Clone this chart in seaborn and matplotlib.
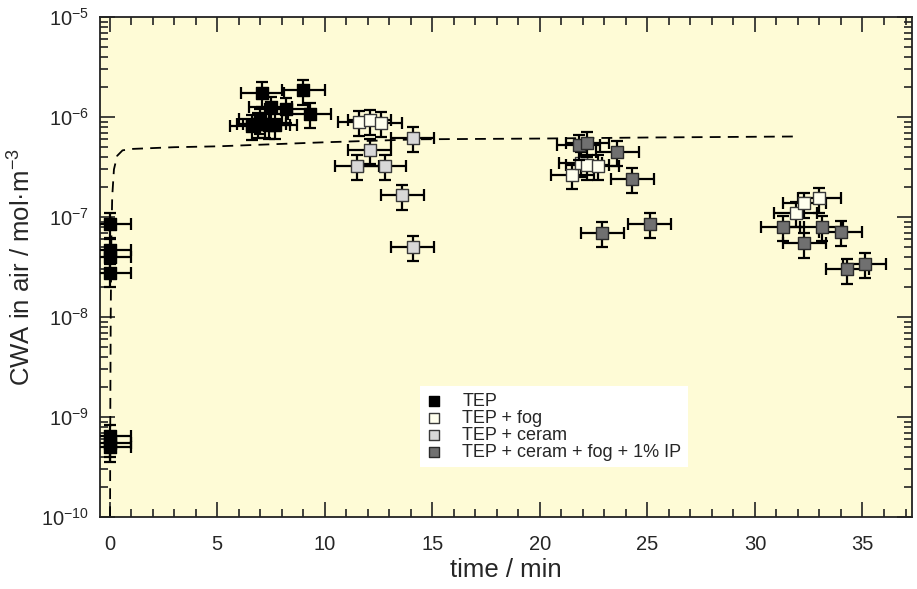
import numpy as np
import pandas as pd
import matplotlib
matplotlib.use("Agg")
import matplotlib.pyplot as plt
import seaborn as sns
from matplotlib.ticker import MultipleLocator, FixedLocator, NullFormatter, LogFormatterSciNotation

# ---- data ----
series_names = ["TEP", "TEP + fog", "TEP + ceram", "TEP + ceram + fog + 1% IP"]

tep_t = [0, 0, 0, 0, 0, 0, 0, 6.6, 6.9, 7.0, 7.2, 7.4, 7.7, 7.1, 7.5, 8.2, 9.0, 9.3]
tep_c = [8.5e-8, 4.7e-8, 4.0e-8, 2.75e-8, 6.5e-10, 5.5e-10, 5.0e-10,
         8.2e-7, 8.6e-7, 9.5e-7, 8.6e-7, 8.3e-7, 8.4e-7,
         1.75e-6, 1.25e-6, 1.2e-6, 1.85e-6, 1.08e-6]

fog_t = [11.6, 12.1, 12.6, 21.5, 21.9, 22.2, 22.7, 31.9, 32.3, 33.0]
fog_c = [9.0e-7, 9.3e-7, 8.8e-7, 2.63e-7, 3.5e-7, 3.3e-7, 3.24e-7, 1.1e-7, 1.37e-7, 1.54e-7]

ceram_t = [14.1, 12.1, 11.5, 12.8, 13.6, 14.1]
ceram_c = [6.2e-7, 4.7e-7, 3.24e-7, 3.26e-7, 1.65e-7, 5.0e-8]

ip_t = [21.8, 22.2, 23.6, 24.3, 22.9, 25.1, 31.3, 33.1, 34.0, 32.3, 34.3, 35.1]
ip_c = [5.2e-7, 5.5e-7, 4.5e-7, 2.4e-7, 7.0e-8, 8.6e-8, 8.0e-8, 8.0e-8, 7.1e-8, 5.45e-8, 3.0e-8, 3.4e-8]

t_err = 1.0          # min
rel_err = 0.28       # relative concentration error

model_t = [0.02, 0.03, 0.05, 0.08, 0.12, 0.2, 0.35, 0.6, 1.0, 3.0, 5.0, 10.0, 14.4, 20.0, 25.0, 32.0]
model_c = [1e-10, 1e-9, 1e-8, 6e-8, 1.6e-7, 3.0e-7, 4.1e-7, 4.65e-7, 4.8e-7, 5.0e-7, 5.1e-7,
           5.6e-7, 6.0e-7, 6.1e-7, 6.25e-7, 6.4e-7]

y_decades = [1e-10, 1e-9, 1e-8, 1e-7, 1e-6, 1e-5]

fills = {"TEP": "#000000", "TEP + fog": "#FFFFEE",
         "TEP + ceram": "#D8D8D8", "TEP + ceram + fog + 1% IP": "#707070"}
edges = {"TEP": "#000000", "TEP + fog": "#3a3a3a",
         "TEP + ceram": "#3a3a3a", "TEP + ceram + fog + 1% IP": "#2a2a2a"}

frames = []
for name, t, c in zip(series_names, [tep_t, fog_t, ceram_t, ip_t], [tep_c, fog_c, ceram_c, ip_c]):
    frames.append(pd.DataFrame({"time": t, "conc": c, "series": name}))
df = pd.concat(frames, ignore_index=True)
model = pd.DataFrame({"time": model_t, "conc": model_c})

# ---- styling ----
sns.set_style("ticks")
plt.rcParams["font.family"] = ["Liberation Sans", "DejaVu Sans"]
plt.rcParams["mathtext.fontset"] = "custom"
plt.rcParams["mathtext.rm"] = "Liberation Sans"
plt.rcParams["mathtext.it"] = "Liberation Sans:italic"
plt.rcParams["mathtext.default"] = "regular"

fig = plt.figure(figsize=(9.17, 5.89), dpi=100)
ax = fig.add_axes([0.109, 0.122, 0.8855, 0.849])
ax.set_facecolor("#FEFBD6")

ax.set_yscale("log")

sns.lineplot(data=model, x="time", y="conc", ax=ax, color="black", lw=1.3,
             linestyle=(0, (6, 4)), zorder=2, legend=False)

for i, name in enumerate(series_names):
    sub = df[df["series"] == name]
    ax.errorbar(sub["time"], sub["conc"], xerr=t_err, yerr=rel_err * sub["conc"],
                fmt="none", ecolor="black", elinewidth=1.6, capsize=4.5, capthick=1.6,
                zorder=3 + 2 * i)
    sns.scatterplot(data=sub, x="time", y="conc", ax=ax, marker="s", s=80,
                    color=fills[name], edgecolor=edges[name], linewidth=1.0,
                    zorder=4 + 2 * i, label=name)

ax.set_xlim(-0.45, 37.3)
ax.set_ylim(1e-10, 1e-5)

ax.xaxis.set_major_locator(MultipleLocator(5))
ax.xaxis.set_minor_locator(MultipleLocator(1))
ax.yaxis.set_major_locator(FixedLocator(y_decades))
ax.yaxis.set_major_formatter(LogFormatterSciNotation())
minor_y = [m * d for d in y_decades[:-1] for m in range(2, 10)]
ax.yaxis.set_minor_locator(FixedLocator(minor_y))
ax.yaxis.set_minor_formatter(NullFormatter())

ax.tick_params(which="both", direction="in", top=True, right=True, width=1.2, color="#222222")
ax.tick_params(which="major", length=11, labelsize=14.5)
ax.tick_params(axis="x", which="major", pad=13)
ax.tick_params(axis="y", which="major", pad=8)
ax.tick_params(which="minor", length=6, labelleft=False, labelbottom=False)

for sp in ax.spines.values():
    sp.set_linewidth(1.3)
    sp.set_color("#222222")

ax.set_xlabel("time / min", fontsize=18.5, labelpad=3)
ax.set_ylabel("CWA in air / mol·m$^{-3}$", fontsize=18.5, labelpad=4)

handles, labels = ax.get_legend_handles_labels()
leg = ax.legend(handles, labels, loc="lower left", bbox_to_anchor=(0.394, 0.1),
                frameon=True, fancybox=False, framealpha=1.0, edgecolor="white",
                facecolor="white", fontsize=13, handlelength=0.9, handletextpad=1.1,
                labelspacing=0.0, borderpad=0.35, borderaxespad=0.0, markerscale=0.8)
leg.get_frame().set_linewidth(0)

fig.savefig("out.png", dpi=100)
